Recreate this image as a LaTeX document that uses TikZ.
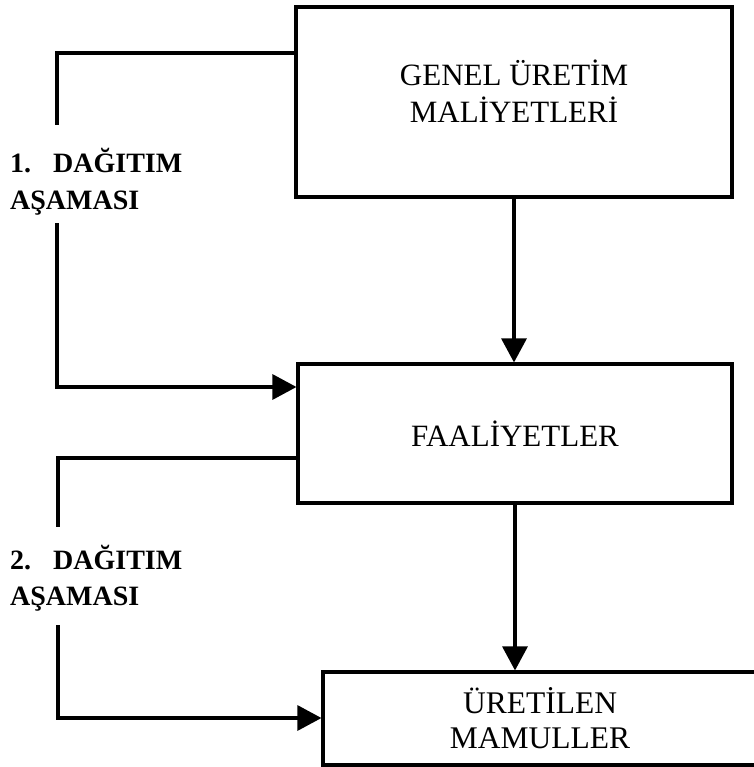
\documentclass[tikz,border=0pt]{standalone}
\usepackage{fontspec}
\setmainfont{Liberation Serif}
\usetikzlibrary{arrows.meta,calc}
\begin{document}
\begin{tikzpicture}[x=1pt,y=-1pt,
  box/.style={draw, line width=3.1pt, inner sep=0pt},
  boxtext/.style={align=center, font=\fontsize{31}{37}\selectfont},
  stagelabel/.style={align=left, anchor=base west, inner sep=0pt,
    font=\bfseries\fontsize{28}{36}\selectfont},
  flow/.style={line width=3.1pt},
  arrowflow/.style={flow, -{Triangle[length=24pt,width=25pt]}}
]
\useasboundingbox (0,0) rectangle (753,767);

% boxes
\node[box, minimum width=436pt, minimum height=190pt] (gum) at (514,102) {};
\node[boxtext] (gumtext) at ([yshift=11pt]gum.center) {GENEL ÜRETİM\\MALİYETLERİ};
\node[box, boxtext, minimum width=434pt, minimum height=139pt, text depth=0pt] (faal) at (515,433.5) {FAALİYETLER};
\node[box, boxtext, minimum width=434pt, minimum height=93pt,
  font=\fontsize{31.5}{35}\selectfont] (urun) at (540,718.5) {ÜRETİLEN\\MAMULLER};

% stage labels (anchored at the baseline of the second line)
\node[stagelabel] (stage1) at (10,209) {1.\hspace{22pt}DAĞITIM\\AŞAMASI};
\node[stagelabel] (stage2) at (10,605) {2.\hspace{22pt}DAĞITIM\\AŞAMASI};

% direct flows
\draw[arrowflow] (gum.south) -- (gum.south |- faal.north);
\draw[arrowflow] (faal.south) -- (faal.south |- urun.north);

% first distribution stage
\coordinate (t1) at (57,53);
\coordinate (c1a) at (57,125);
\coordinate (c1b) at (57,223);
\coordinate (b1) at (57,387);
\draw[flow] (t1 -| gum.west) -- (t1) -- (c1a);
\draw[arrowflow] (c1b) -- (b1) -- (b1 -| faal.west);

% second distribution stage
\coordinate (t2) at (58,458);
\coordinate (c2a) at (58,527);
\coordinate (c2b) at (58,625);
\coordinate (b2) at (58,718);
\draw[flow] (t2 -| faal.west) -- (t2) -- (c2a);
\draw[arrowflow] (c2b) -- (b2) -- (b2 -| urun.west);
\end{tikzpicture}
\end{document}
